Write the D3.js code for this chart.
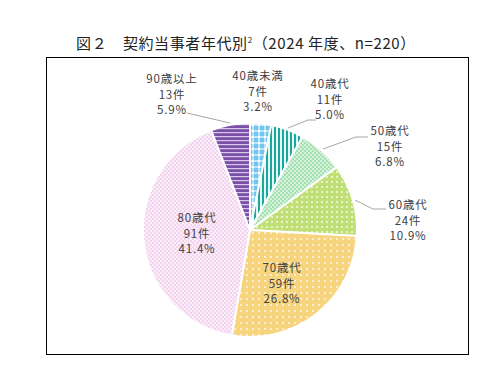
<!DOCTYPE html>
<html><head><meta charset="utf-8">
<script src="https://cdn.jsdelivr.net/npm/d3@7"></script>
<style>
body{margin:0;background:#fff;}
svg{display:block;font-family:"Noto Sans CJK JP","Noto Sans",sans-serif;}
</style></head>
<body><svg id="c" width="503" height="380"></svg>
<script>
const categories = ["40歳未満","40歳代","50歳代","60歳代","70歳代","80歳代","90歳以上"];
const counts = [7, 11, 15, 24, 59, 91, 13];
const percents = ["3.2%","5.0%","6.8%","10.9%","26.8%","41.4%","5.9%"];
const countLabels = ["7件","11件","15件","24件","59件","91件","13件"];

const svg = d3.select("#c");
const defs = svg.append("defs");

function pat(id, w, h, bg, draw){
  const p = defs.append("pattern").attr("id", id).attr("patternUnits","userSpaceOnUse").attr("width", w).attr("height", h);
  p.append("rect").attr("width", w).attr("height", h).attr("fill", bg);
  draw(p);
}
pat("p0", 6, 6, "#70c6f0", p => {
  p.append("rect").attr("x",2).attr("y",0).attr("width",2).attr("height",6).attr("fill","#bfe6fa");
  p.append("rect").attr("x",0).attr("y",2).attr("width",6).attr("height",2).attr("fill","#bfe6fa");
  p.append("rect").attr("x",2).attr("y",2).attr("width",2).attr("height",2).attr("fill","#ffffff");
});
pat("p1", 4, 4, "#e6f6f4", p => {
  p.append("rect").attr("x",0).attr("y",0).attr("width",2).attr("height",4).attr("fill","#1aa89a");
});
pat("p2", 4, 4, "#a4e1b0", p => {
  p.append("rect").attr("x",0).attr("y",0).attr("width",2).attr("height",2).attr("fill","#d6f2dc");
  p.append("rect").attr("x",2).attr("y",2).attr("width",2).attr("height",2).attr("fill","#d6f2dc");
});
pat("p3", 5, 5, "#c1df77", p => {
  p.append("rect").attr("x",1).attr("y",1).attr("width",2).attr("height",2).attr("fill","#e8f4cc");
});
pat("p4", 6, 6, "#f7d47e", p => {
  p.append("rect").attr("x",2).attr("y",2).attr("width",2).attr("height",2).attr("fill","#fcefcf");
});
pat("p5", 4, 4, "#f3d3ee", p => {
  p.append("rect").attr("x",0).attr("y",0).attr("width",2).attr("height",2).attr("fill","#faeefa");
  p.append("rect").attr("x",2).attr("y",2).attr("width",2).attr("height",2).attr("fill","#faeefa");
});
pat("p6", 4, 4, "#7a4fa6", p => {
  p.append("rect").attr("x",0).attr("y",2).attr("width",4).attr("height",1.2).attr("fill","#d8c8ea");
});

// title
const title = svg.append("text").attr("x", 246).attr("y", 49).attr("text-anchor","middle")
  .attr("font-size", 15).attr("letter-spacing", 0.6).attr("fill", "#222");
title.append("tspan").text("図２　契約当事者年代別");
title.append("tspan").attr("font-size", 8).attr("dy", -6).text("2");
title.append("tspan").attr("dy", 6).text("（2024 年度、n=220）");

// frame
svg.append("rect").attr("x", 46.5).attr("y", 57.5).attr("width", 422).attr("height", 297)
  .attr("fill","none").attr("stroke","#000").attr("stroke-width",1);

const cx = 250, cy = 230, R = 107;
const pie = d3.pie().sort(null).value(d => d);
const arcs = pie(counts);
const arc = d3.arc().innerRadius(0).outerRadius(R);
const g = svg.append("g").attr("transform", `translate(${cx},${cy})`);
g.selectAll("path").data(arcs).join("path")
  .attr("d", arc)
  .attr("fill", (d,i) => `url(#p${i})`)
  .attr("stroke", "#fff").attr("stroke-width", 2).attr("stroke-linejoin","round");

const labelPos = [[258,80],[330,88],[390,135],[408,209],[282,272],[197,222],[172,83]];
const leaders = [
  null,
  [[288,128],[308,120],[316,120]],
  [[323,149],[356,137],[368,137]],
  [[355,200],[373,209],[386,209]],
  null, null,
  [[187,113],[230,123]]
];
const line = d3.line();
svg.selectAll("path.leader").data(leaders.filter(d=>d)).join("path")
  .attr("class","leader").attr("d", line).attr("fill","none")
  .attr("stroke","#a6a6a6").attr("stroke-width",1);

const lab = svg.selectAll("text.lab").data(categories).join("text")
  .attr("class","lab").attr("text-anchor","middle").attr("font-size", 11.5)
  .attr("letter-spacing", 0.8).attr("fill","#404040");
lab.each(function(d,i){
  const t = d3.select(this);
  const [x,y] = labelPos[i];
  [d, countLabels[i], percents[i]].forEach((s,k) => {
    t.append("tspan").attr("x", x).attr("y", y + k*15.6).text(s);
  });
});
</script></body></html>
